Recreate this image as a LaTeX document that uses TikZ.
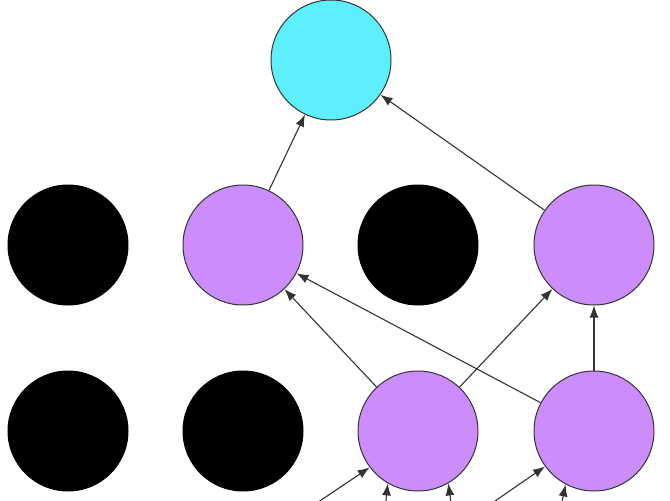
\documentclass[tikz,border=0pt]{standalone}
\usetikzlibrary{arrows.meta}
\definecolor{nodecyan}{HTML}{5EEFFC}
\definecolor{nodepurple}{HTML}{CC8DFB}
\definecolor{edgegray}{HTML}{333333}
\tikzset{
  unit/.style={circle, draw=edgegray, line width=1pt, minimum size=120pt, inner sep=0pt},
  active/.style={unit, fill=nodepurple},
  outnode/.style={unit, fill=nodecyan},
  off/.style={unit, fill=black, draw=black},
  conn/.style={draw=edgegray, line width=1.1pt, -{Latex[length=12pt,width=9pt]}}
}
\begin{document}
\begin{tikzpicture}[x=1pt,y=-1pt]
\useasboundingbox (0,0) rectangle (670,501);
\clip (0,0) rectangle (670,501);
\fill[white] (0,0) rectangle (670,501);
% top
\node[outnode] (top) at (331,60) {};
% middle row
\node[off] (m1) at (68,245) {};
\node[active] (m2) at (243,245) {};
\node[off] (m3) at (418,245) {};
\node[active] (m4) at (594,245) {};
% bottom row
\node[off] (b1) at (68,431) {};
\node[off] (b2) at (243,431) {};
\node[active] (b3) at (418,431) {};
\node[active] (b4) at (594,431) {};
% sources below the frame
\coordinate (s1) at (290,521);
\coordinate (s2) at (383,530);
\coordinate (s3) at (455,530);
\coordinate (s4) at (466,521);
\coordinate (s5) at (556,530);
% connectors
\draw[conn] (m2) -- (top);
\draw[conn] (m4) -- (top);
\draw[conn] (b3) -- (m2);
\draw[conn] (b4) -- (m2);
\draw[conn] (b3) -- (m4);
\draw[conn] (b4) -- (m4);
\draw[conn] (s1) -- (b3.217);
\draw[conn] (s2) -- (b3.240);
\draw[conn] (s3) -- (b3.300);
\draw[conn] (s4) -- (b4.216);
\draw[conn] (s5) -- (b4.242);
\end{tikzpicture}
\end{document}
